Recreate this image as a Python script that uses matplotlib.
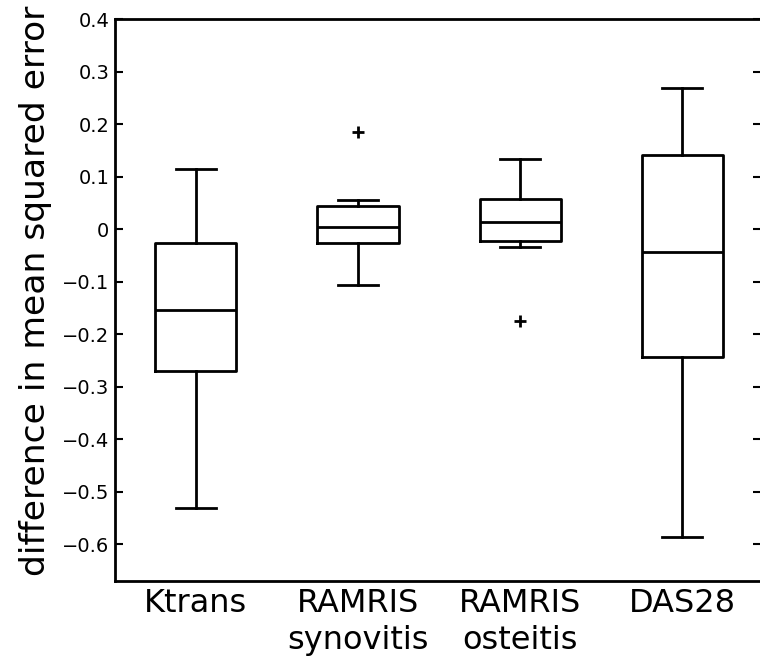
import matplotlib
matplotlib.use("Agg")
import matplotlib.pyplot as plt

# box statistics
labels = ["Ktrans", "RAMRIS\nsynovitis", "RAMRIS\nosteitis", "DAS28"]
whislo = [-0.530, -0.107, -0.033, -0.587]
q1 = [-0.270, -0.026, -0.023, -0.243]
med = [-0.153, 0.004, 0.014, -0.043]
q3 = [-0.027, 0.045, 0.057, 0.141]
whishi = [0.114, 0.055, 0.133, 0.269]
fliers = [[], [0.186], [-0.175], []]

yticks = [0.4, 0.3, 0.2, 0.1, 0.0, -0.1, -0.2, -0.3, -0.4, -0.5, -0.6]
yticklabels = ["0.4", "0.3", "0.2", "0.1", "0", "\u22120.1", "\u22120.2", "\u22120.3",
               "\u22120.4", "\u22120.5", "\u22120.6"]

stats = [dict(whislo=a, q1=b, med=c, q3=d, whishi=e, fliers=f)
         for a, b, c, d, e, f in zip(whislo, q1, med, q3, whishi, fliers)]

fig = plt.figure(figsize=(7.6, 6.61), dpi=100)
# right spine sits just outside the canvas, as in the reference
ax = fig.add_axes([0.1513, 0.121, 0.858, 0.850])

lw = 2.0
ax.bxp(stats, positions=[1, 2, 3, 4], widths=0.5,
       boxprops=dict(color="black", lw=lw),
       whiskerprops=dict(color="black", lw=lw, ls="-"),
       capprops=dict(color="black", lw=lw),
       medianprops=dict(color="black", lw=lw),
       flierprops=dict(marker="+", markeredgecolor="black", markersize=9, mew=2))

ax.set_xlim(0.5, 4.525)
ax.set_ylim(-0.67, 0.4)
ax.set_yticks(yticks)
ax.set_yticklabels(yticklabels, fontsize=14)
ax.set_xticks([1, 2, 3, 4])
ax.set_xticklabels(labels, fontsize=23, linespacing=1.25)
ax.tick_params(axis="y", direction="in", length=6, width=1.5, pad=4, left=True, right=True)
for t in ax.yaxis.get_major_ticks():
    t.tick2line.set_markersize(10)
ax.tick_params(axis="x", length=0, pad=5)
for s in ax.spines.values():
    s.set_linewidth(2)
ax.set_ylabel("difference in mean squared error", fontsize=24.8, labelpad=7)
ax.yaxis.label.set_y(0.516)

fig.savefig("out.png", dpi=100)
